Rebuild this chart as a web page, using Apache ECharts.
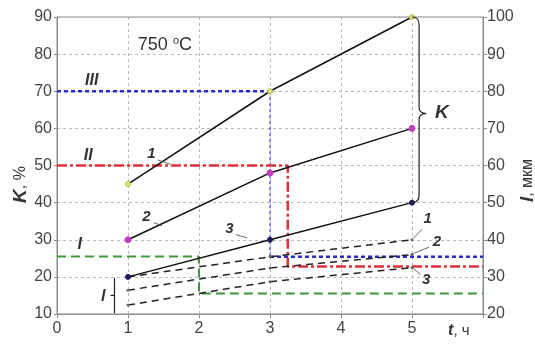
<!DOCTYPE html>
<html><head><meta charset="utf-8">
<script src="https://cdn.jsdelivr.net/npm/echarts@6/dist/echarts.min.js"></script>
<style>html,body{margin:0;padding:0;background:#fff}#c{width:535px;height:345px}</style>
</head><body><div id="c"></div>
<script>
// ---- data ----
const tHours = [1, 3, 5];
// K, % (left axis), solid curves
const K1 = [45, 70, 90];
const K2 = [30, 48, 60];
const K3 = [20, 30, 40];
// l, мкм (right axis), dashed curves
const L1 = [30, 35.4, 40];
const L2 = [26.4, 32.4, 36];
const L3 = [22.4, 28.7, 32.5];
// construction lines (K units, left axis)
const levelIII = [[0, 70], [3, 70], [3, 25.4], [6, 25.4]];
const levelII = [[0, 50], [3.25, 50], [3.25, 22.8], [6, 22.8]];
const levelI = [[0, 25.5], [2, 25.5], [2, 15.5], [6, 15.5]];
const xTicks = [0, 1, 2, 3, 4, 5];
const leftTicks = [10, 20, 30, 40, 50, 60, 70, 80, 90];
const rightTicks = [20, 30, 40, 50, 60, 70, 80, 90, 100];

// ---- annotations (positions in data units) ----
const notes = [
  { t: 1.52, k: 82.5, text: '750 {s|o}C', size: 18, style: 'normal', weight: 'normal' },
  { t: 0.49, k: 73, text: 'III', size: 16, style: 'italic', weight: 'bold' },
  { t: 0.44, k: 52.8, text: 'II', size: 16, style: 'italic', weight: 'bold' },
  { t: 0.32, k: 28.6, text: 'I', size: 16, style: 'italic', weight: 'bold' },
  { t: 1.33, k: 53.2, text: '1', size: 15, style: 'italic', weight: 'bold', lead: [[1.42, 51.5], [1.6, 50.3]] },
  { t: 1.26, k: 36.3, text: '2', size: 15, style: 'italic', weight: 'bold', lead: [[1.36, 34.6], [1.48, 33.8]] },
  { t: 2.43, k: 33, text: '3', size: 15, style: 'italic', weight: 'bold', lead: [[2.52, 31.4], [2.68, 30.5]] },
  { t: 5.22, k: 35.5, text: '1', size: 15, style: 'italic', weight: 'bold', lead: [[5.14, 32.8], [5.02, 30.4]] },
  { t: 5.35, k: 29.5, text: '2', size: 15, style: 'italic', weight: 'bold', lead: [[5.24, 28.0], [5.02, 26.3]] },
  { t: 5.2, k: 19.2, text: '3', size: 15, style: 'italic', weight: 'bold', lead: [[5.12, 20.6], [5.02, 22.3]] },
  { t: 5.42, k: 64.1, text: 'K', size: 19, style: 'italic', weight: 'bold' },
  { t: 0.65, k: 14.6, text: 'l', size: 16, style: 'italic', weight: 'bold' },
  { t: 5.66, k: 5.4, text: '{b|t}, ч', size: 15, style: 'normal', weight: 'normal' }
];

const chart = echarts.init(document.getElementById('c'), null, { renderer: 'canvas' });
const font = 'Liberation Sans, Arial, sans-serif';
const grid = { left: 57, right: 52, top: 17, bottom: 31, show: true, borderColor: '#8a8a8a', borderWidth: 1,
  containLabel: false, outerBoundsMode: 'none' };
const split = { show: true, lineStyle: { color: '#b8b8b8', type: [3, 3], width: 1 } };
const tickFont = 16;

function textRich(size) {
  return {
    s: { fontSize: Math.round(size * 0.6), verticalAlign: 'top', padding: [0, 0, 8, 0], fill: '#333', fontFamily: font },
    b: { fontSize: size + 1, fontStyle: 'italic', fontWeight: 'bold', fill: '#333', fontFamily: font }
  };
}
const nameRich = {
  b: { fontSize: 19, fontStyle: 'italic', fontWeight: 'bold', color: '#333', fontFamily: font },
  n: { fontSize: 16, color: '#333', fontFamily: font }
};

const option = {
  animation: false,
  backgroundColor: '#fff',
  grid: grid,
  xAxis: {
    type: 'value', min: 0, max: 6, interval: 1,
    axisLine: { show: true, lineStyle: { color: '#8a8a8a' } },
    axisTick: { show: true, length: 4, lineStyle: { color: '#8a8a8a' } },
    axisLabel: { color: '#444', fontSize: tickFont, fontFamily: font, margin: 7,
      formatter: v => (xTicks.indexOf(v) >= 0 ? String(v) : '') },
    splitLine: split
  },
  yAxis: [
    {
      type: 'value', min: 10, max: 90, interval: 10, position: 'left',
      name: '{b|K}{n|, %}', nameLocation: 'middle', nameGap: 27, nameRotate: 90, nameMoveOverlap: false,
      nameTextStyle: { fontSize: 16, color: '#333', fontFamily: font, padding: [0, 38, 0, 0], rich: nameRich },
      axisLine: { show: true, lineStyle: { color: '#8a8a8a' } },
      axisTick: { show: true, length: 3, inside: false, lineStyle: { color: '#8a8a8a' } },
      axisLabel: { color: '#444', fontSize: tickFont, fontFamily: font, margin: 5,
        formatter: v => (leftTicks.indexOf(v) >= 0 ? String(v) : '') },
      splitLine: split
    },
    {
      type: 'value', min: 20, max: 100, interval: 10, position: 'right',
      name: '{b|l}{n|, мкм}', nameLocation: 'middle', nameGap: 35, nameRotate: 90, nameMoveOverlap: false,
      nameTextStyle: { fontSize: 16, color: '#333', fontFamily: font, padding: [0, 30, 0, 0], rich: nameRich },
      axisLine: { show: true, lineStyle: { color: '#8a8a8a' } },
      axisTick: { show: true, length: 4, lineStyle: { color: '#8a8a8a' } },
      axisLabel: { color: '#444', fontSize: tickFont, fontFamily: font, margin: 4,
        formatter: v => (rightTicks.indexOf(v) >= 0 ? String(v) : '') },
      splitLine: { show: false }
    }
  ],
  series: [
    // construction lines: horizontal parts bold, vertical drops
    { name: 'III', type: 'line', yAxisIndex: 0, data: levelIII.slice(0, 2), symbol: 'none', z: 3,
      lineStyle: { color: '#2b2bc8', width: 2.5, type: [4, 3] } },
    { name: 'III drop', type: 'line', yAxisIndex: 0, data: levelIII.slice(1, 3), symbol: 'none', z: 3,
      lineStyle: { color: '#4848d8', width: 1.3, type: [3, 3] } },
    { name: 'III l', type: 'line', yAxisIndex: 0, data: levelIII.slice(2, 4), symbol: 'none', z: 3,
      lineStyle: { color: '#2b2bc8', width: 2.5, type: [4, 3] } },
    { name: 'II', type: 'line', yAxisIndex: 0, data: levelII, symbol: 'none', z: 3,
      lineStyle: { color: '#e0303a', width: 2.5, type: [10, 3, 3, 3] } },
    { name: 'I', type: 'line', yAxisIndex: 0, data: levelI, symbol: 'none', z: 3,
      lineStyle: { color: '#3a9a3a', width: 2, type: [9, 5] } },
    // solid K curves
    { name: 'K1', type: 'line', yAxisIndex: 0, data: tHours.map((t, i) => [t, K1[i]]), z: 5,
      symbol: 'circle', symbolSize: 5, itemStyle: { color: '#e6e67a', borderColor: '#b8b84a', borderWidth: 1 },
      lineStyle: { color: '#111', width: 1.5 } },
    { name: 'K2', type: 'line', yAxisIndex: 0, data: tHours.map((t, i) => [t, K2[i]]), z: 5,
      symbol: 'circle', symbolSize: 6, itemStyle: { color: '#c23cc2', borderColor: '#c23cc2' },
      lineStyle: { color: '#111', width: 1.5 } },
    { name: 'K3', type: 'line', yAxisIndex: 0, data: tHours.map((t, i) => [t, K3[i]]), z: 5,
      symbol: 'circle', symbolSize: 5, itemStyle: { color: '#1d1d5a', borderColor: '#1d1d5a' },
      lineStyle: { color: '#111', width: 1.5 } },
    // dashed l curves
    { name: 'l1', type: 'line', yAxisIndex: 1, data: tHours.map((t, i) => [t, L1[i]]), z: 4,
      symbol: 'circle', symbolSize: 3, itemStyle: { color: '#666' },
      lineStyle: { color: '#222', width: 1.5, type: [7, 5] } },
    { name: 'l2', type: 'line', yAxisIndex: 1, data: tHours.map((t, i) => [t, L2[i]]), z: 4,
      symbol: 'circle', symbolSize: 3, itemStyle: { color: '#666' },
      lineStyle: { color: '#222', width: 1.5, type: [7, 5] } },
    { name: 'l3', type: 'line', yAxisIndex: 1, data: tHours.map((t, i) => [t, L3[i]]), z: 4,
      symbol: 'circle', symbolSize: 3, itemStyle: { color: '#666' },
      lineStyle: { color: '#222', width: 1.5, type: [7, 5] } },
    // braces
    {
      type: 'custom', yAxisIndex: 0, clip: false, z: 6, silent: true,
      data: [[5.0, 90, 40, 64, 0.1, 0.2], [0.81, 19.7, 10.2, 15, -0.04, -0.06]],
      renderItem: function (params, api) {
        const x0 = api.value(0), top = api.value(1), bot = api.value(2), tip = api.value(3);
        const dx = api.value(4), dt = api.value(5);
        const a = api.coord([x0, top]);
        const b = api.coord([x0 + dx, top]);
        const c = api.coord([x0 + dx, bot]);
        const m = api.coord([x0 + dt, tip]);
        const e = api.coord([x0, bot]);
        let d;
        if (params.dataIndex === 0) {
          d = 'M' + a[0] + ' ' + a[1] + ' Q' + b[0] + ' ' + a[1] + ' ' + b[0] + ' ' + (a[1] + 8) +
            ' L' + b[0] + ' ' + (m[1] - 6) + ' Q' + b[0] + ' ' + m[1] + ' ' + m[0] + ' ' + m[1] +
            ' Q' + b[0] + ' ' + m[1] + ' ' + b[0] + ' ' + (m[1] + 6) +
            ' L' + c[0] + ' ' + (e[1] - 8) + ' Q' + c[0] + ' ' + e[1] + ' ' + e[0] + ' ' + e[1];
        } else {
          const bx = api.coord([x0, top]);
          d = 'M' + bx[0] + ' ' + bx[1] + ' L' + bx[0] + ' ' + e[1] +
            ' M' + bx[0] + ' ' + m[1] + ' L' + (bx[0] - 4) + ' ' + m[1];
        }
        return { type: 'path', shape: { pathData: d }, style: { stroke: '#222', fill: null, lineWidth: 1.2 } };
      }
    },
    // text annotations
    {
      type: 'custom', yAxisIndex: 0, clip: false, z: 7, silent: true,
      data: notes.map((n, i) => [n.t, n.k, i]),
      renderItem: function (params, api) {
        const n = notes[api.value(2)];
        const p = api.coord([api.value(0), api.value(1)]);
        const children = [{
          type: 'text', x: p[0], y: p[1],
          style: {
            text: n.text, fill: '#333', fontSize: n.size, fontStyle: n.style, fontWeight: n.weight,
            fontFamily: font, align: 'center', verticalAlign: 'middle', rich: textRich(n.size)
          }
        }];
        if (n.lead) {
          const p1 = api.coord(n.lead[0]), p2 = api.coord(n.lead[1]);
          children.push({ type: 'line', shape: { x1: p1[0], y1: p1[1], x2: p2[0], y2: p2[1] },
            style: { stroke: '#555', lineWidth: 0.9 } });
        }
        return { type: 'group', children: children };
      }
    }
  ]
};
chart.setOption(option);
</script></body></html>
